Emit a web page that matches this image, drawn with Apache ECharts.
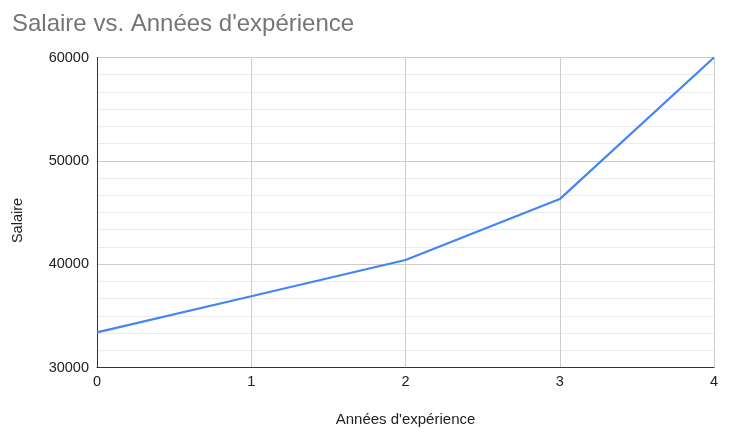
<!DOCTYPE html>
<html>
<head>
<meta charset="utf-8">
<script src="https://cdn.jsdelivr.net/npm/echarts@6/dist/echarts.min.js"></script>
<style>
html,body{margin:0;padding:0;background:#fff;}
#c{width:729px;height:442px;}
</style>
</head>
<body>
<div id="c"></div>
<script>
var titleText = "Salaire vs. Années d'expérience";
var xName = "Années d'expérience";
var yName = "Salaire";
var years = [0, 1, 2, 3, 4];
var salaries = [33400, 36900, 40400, 46300, 60000];

var chart = echarts.init(document.getElementById('c'), null, {renderer: 'canvas'});
var font = 'Arial, "Liberation Sans", sans-serif';
chart.setOption({
  animation: false,
  backgroundColor: '#ffffff',
  title: {
    text: titleText,
    left: 7,
    top: 7,
    textStyle: {fontFamily: font, fontSize: 24, fontWeight: 'normal', color: '#757575'}
  },
  grid: {left: 97, right: 15, top: 57.5, bottom: 74.5, containLabel: false},
  xAxis: {
    type: 'value',
    min: 0, max: 4, interval: 1,
    name: xName,
    nameLocation: 'middle',
    nameGap: 45,
    nameTextStyle: {fontFamily: font, fontSize: 15, color: '#222222'},
    axisLine: {show: true, onZero: false, lineStyle: {color: '#333333', width: 1}},
    axisTick: {show: false},
    axisLabel: {fontFamily: font, fontSize: 14.5, color: '#222222', margin: 7},
    splitLine: {show: true, lineStyle: {color: '#cccccc', width: 1}}
  },
  yAxis: {
    type: 'value',
    min: 30000, max: 60000, interval: 10000,
    name: yName,
    nameLocation: 'middle',
    nameGap: 72,
    nameTextStyle: {fontFamily: font, fontSize: 14.5, color: '#222222', padding: [0, 16, 0, 0]},
    axisLine: {show: true, lineStyle: {color: '#333333', width: 1}},
    axisTick: {show: false},
    axisLabel: {fontFamily: font, fontSize: 14.5, color: '#222222', margin: 8,
      formatter: function (v) { return String(v); }},
    splitLine: {show: true, lineStyle: {color: '#cccccc', width: 1}},
    minorTick: {show: false, splitNumber: 6},
    minorSplitLine: {show: true, lineStyle: {color: '#ebebeb', width: 1}}
  },
  series: [{
    type: 'line',
    data: years.map(function (x, i) { return [x, salaries[i]]; }),
    showSymbol: false,
    symbol: 'none',
    lineStyle: {color: '#4285f4', width: 2.2},
    itemStyle: {color: '#4285f4'}
  }]
});
</script>
</body>
</html>
